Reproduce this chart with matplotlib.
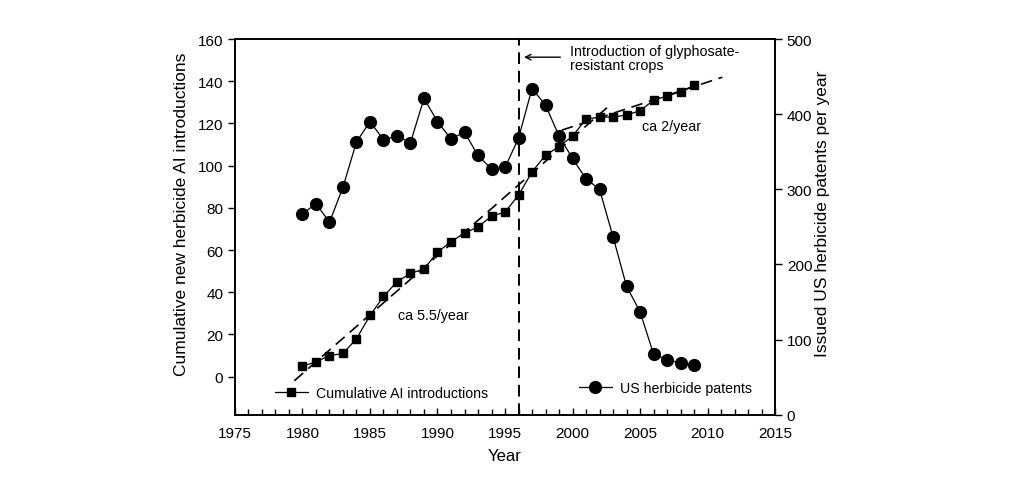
import matplotlib
matplotlib.use("Agg")
import matplotlib.pyplot as plt
from matplotlib.ticker import MultipleLocator

plt.rcParams['font.family'] = ['Liberation Sans', 'DejaVu Sans']

# ---------- data ----------
years = list(range(1980, 2010))
cum_ai = [5, 7, 10, 11, 18, 29, 38, 45, 49, 51,
          59, 64, 68, 71, 76, 78, 86, 97, 105, 109,
          114, 122, 123, 123, 124, 126, 131, 133, 135, 138]
patents = [267, 281, 256, 303, 363, 390, 366, 371, 362, 421,
           390, 367, 376, 345, 327, 329, 368, 434, 412, 371,
           341, 314, 300, 237, 171, 137, 81, 73, 69, 66]

fit1_x = [1979.4, 2002.65]
fit1_y = [-1.9, 128.0]
fit2_x = [1999.2, 2011.1]
fit2_y = [116.8, 141.9]
gr_year = 1996

# ---------- plot ----------
fig = plt.figure(figsize=(10.23, 4.81), dpi=100)
ax = fig.add_axes([0.2297, 0.1358, 0.5279, 0.781])
ax2 = ax.twinx()

dash = (0, (7, 4))
ax.plot(fit1_x, fit1_y, color='k', lw=1.2, linestyle=dash)
ax.plot(fit2_x, fit2_y, color='k', lw=1.2, linestyle=dash)
l1, = ax.plot(years, cum_ai, color='k', lw=0.9, marker='s', markersize=5.5,
              label='Cumulative AI introductions')
l2, = ax2.plot(years, patents, color='k', lw=0.9, marker='o', markersize=8.5,
               label='US herbicide patents')
ax.axvline(gr_year, color='k', lw=1.4, linestyle=(0, (6, 3.5)))

ax.set_xlim(1975, 2015)
ax.set_ylim(-18, 160)
ax2.set_ylim(0, 500)
ax.xaxis.set_major_locator(MultipleLocator(5))
ax.xaxis.set_minor_locator(MultipleLocator(1))
ax.set_yticks(range(0, 161, 20))
ax2.set_yticks(range(0, 501, 100))

ax.tick_params(axis='x', which='major', direction='in', length=5, width=1, labelsize=11, pad=8)
ax.tick_params(axis='x', which='minor', direction='in', length=4, width=1)
ax.tick_params(axis='y', direction='out', length=5, width=1, labelsize=11)
ax2.tick_params(axis='y', direction='out', length=5, width=1, labelsize=11)
for a in (ax, ax2):
    for s in a.spines.values():
        s.set_linewidth(1.2)

ax.set_xlabel('Year', fontsize=12, labelpad=6)
ax.set_ylabel('Cumulative new herbicide AI introductions', fontsize=12.5)
ax2.set_ylabel('Issued US herbicide patents per year', fontsize=12.5)
ax.yaxis.set_label_coords(-0.085, 0.537)
ax2.yaxis.set_label_coords(1.074, 0.537)

ax.text(1989.7, 29, 'ca 5.5/year', fontsize=10.3, va='center', ha='center')
ax.text(2007.3, 119, 'ca 2/year', fontsize=10.3, va='center', ha='center')
ax.annotate('', xy=(1996.2, 151.4), xytext=(1999.3, 151.4),
            arrowprops=dict(arrowstyle='->', color='k', lw=1))
ax.text(1999.8, 151, 'Introduction of glyphosate-\nresistant crops', fontsize=10.3,
        va='center', ha='left', linespacing=1.05)

ax.legend(handles=[l1], loc='center left', bbox_to_anchor=(0.074, 0.058), frameon=False,
          fontsize=10.2, handlelength=2.33, handletextpad=0.6, borderpad=0, borderaxespad=0)
ax2.legend(handles=[l2], loc='center left', bbox_to_anchor=(0.637, 0.071), frameon=False,
           fontsize=10.2, handlelength=2.33, handletextpad=0.6, borderpad=0, borderaxespad=0)

fig.savefig('out.png', dpi=100)
